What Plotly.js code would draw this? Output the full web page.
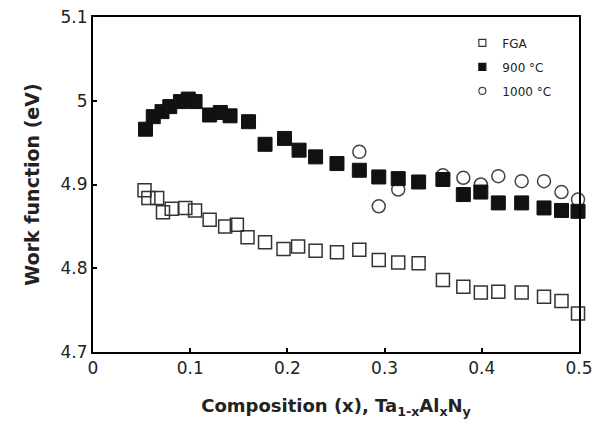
<!DOCTYPE html>
<html>
<head>
<meta charset="utf-8">
<script src="https://cdn.plot.ly/plotly-3.0.1.min.js"></script>
<style>
  html, body { margin: 0; padding: 0; background: #fff; }
  #chart { width: 600px; height: 426px; }
</style>
</head>
<body>
<div id="chart"></div>
<script>
// Work function of Ta(1-x)Al(x)N(y) gates vs Al composition
const seriesNames = ['FGA', '900 °C', '1000 °C'];

const xFGA = [0.053, 0.057, 0.066, 0.072, 0.081, 0.095, 0.105, 0.120, 0.136, 0.148,
              0.159, 0.177, 0.196, 0.211, 0.229, 0.251, 0.274, 0.294, 0.314, 0.335,
              0.360, 0.381, 0.399, 0.417, 0.441, 0.464, 0.482, 0.499];
const yFGA = [4.893, 4.884, 4.884, 4.867, 4.871, 4.872, 4.869, 4.858, 4.850, 4.852,
              4.837, 4.831, 4.823, 4.826, 4.821, 4.819, 4.822, 4.810, 4.807, 4.806,
              4.786, 4.778, 4.771, 4.772, 4.771, 4.766, 4.761, 4.746];

const x900 = [0.054, 0.062, 0.071, 0.079, 0.090, 0.098, 0.105, 0.120, 0.131, 0.141,
              0.160, 0.177, 0.197, 0.212, 0.229, 0.251, 0.274, 0.294, 0.314, 0.335,
              0.360, 0.381, 0.399, 0.417, 0.441, 0.464, 0.482, 0.499];
const y900 = [4.966, 4.981, 4.987, 4.993, 4.999, 5.002, 4.999, 4.983, 4.986, 4.982,
              4.975, 4.948, 4.955, 4.941, 4.933, 4.925, 4.917, 4.909, 4.907, 4.903,
              4.906, 4.888, 4.891, 4.878, 4.878, 4.872, 4.869, 4.868];

const x1000 = [0.274, 0.294, 0.314, 0.360, 0.381, 0.399, 0.417, 0.441, 0.464, 0.482, 0.499];
const y1000 = [4.939, 4.874, 4.894, 4.911, 4.908, 4.900, 4.910, 4.904, 4.904, 4.891, 4.882];

const xTicks = [0, 0.1, 0.2, 0.3, 0.4, 0.5];
const xTickText = ['0', '0.1', '0.2', '0.3', '0.4', '0.5'];
const yTicks = [4.7, 4.8, 4.9, 5.0, 5.1];
const yTickText = ['4.7', '4.8', '4.9', '5', '5.1'];

const FONT = 'DejaVu Sans, Verdana, sans-serif';

const styles = {
  fga:  { symbol: 'square-open', color: '#333', line: { color: '#333', width: 1.5 } },
  t900: { symbol: 'square', color: '#111', line: { color: '#111', width: 1 } },
  t1000:{ symbol: 'circle-open', color: '#444', line: { color: '#444', width: 1.5 } }
};

function dataTrace(x, y, st, size) {
  return {
    x: x, y: y, type: 'scatter', mode: 'markers', showlegend: false,
    cliponaxis: false,
    marker: { symbol: st.symbol, size: size, color: st.color, line: st.line }
  };
}

// small-marker entries used only for the legend
function legendTrace(name, st, group) {
  return {
    x: [null], y: [null], type: 'scatter', mode: 'markers', name: name,
    legendgroup: group,
    marker: { symbol: st.symbol, size: 7, color: st.color,
              line: { color: st.line.color, width: 1.2 } }
  };
}

const traces = [
  dataTrace(x1000, y1000, styles.t1000, 13),
  dataTrace(xFGA, yFGA, styles.fga, 13),
  dataTrace(x900, y900, styles.t900, 14),
  legendTrace(seriesNames[0], styles.fga, 'a'),
  legendTrace(seriesNames[1], styles.t900, 'b'),
  legendTrace(seriesNames[2], styles.t1000, 'c')
];

const axisCommon = {
  showline: true, linecolor: '#000', linewidth: 2, mirror: true,
  ticks: 'inside', ticklen: 4, tickwidth: 2, tickcolor: '#000',
  showgrid: false, zeroline: false,
  tickfont: { family: FONT, size: 17, color: '#222' }
};

const layout = {
  width: 600, height: 426,
  margin: { l: 93, r: 21, t: 17, b: 74 },
  paper_bgcolor: '#fff', plot_bgcolor: '#fff',
  font: { family: FONT, color: '#222' },
  xaxis: Object.assign({}, axisCommon, {
    range: [0, 0.5], tickvals: xTicks, ticktext: xTickText,
    title: { text: 'Composition (x), Ta<sub>1-x</sub>Al<sub>x</sub>N<sub>y</sub>',
             font: { family: FONT, size: 18, color: '#222', weight: 'bold' }, standoff: 22 }
  }),
  yaxis: Object.assign({}, axisCommon, {
    range: [4.7, 5.1], tickvals: yTicks, ticktext: yTickText,
    title: { text: 'Work function (eV)',
             font: { family: FONT, size: 19, color: '#222', weight: 'bold' }, standoff: 16 }
  }),
  legend: {
    x: 0.76, y: 0.966, xanchor: 'left', yanchor: 'top',
    bgcolor: 'rgba(0,0,0,0)', borderwidth: 0,
    font: { family: FONT, size: 12, color: '#222' },
    tracegroupgap: 5, itemsizing: 'trace'
  }
};

Plotly.newPlot('chart', traces, layout, { staticPlot: true });
</script>
</body>
</html>
